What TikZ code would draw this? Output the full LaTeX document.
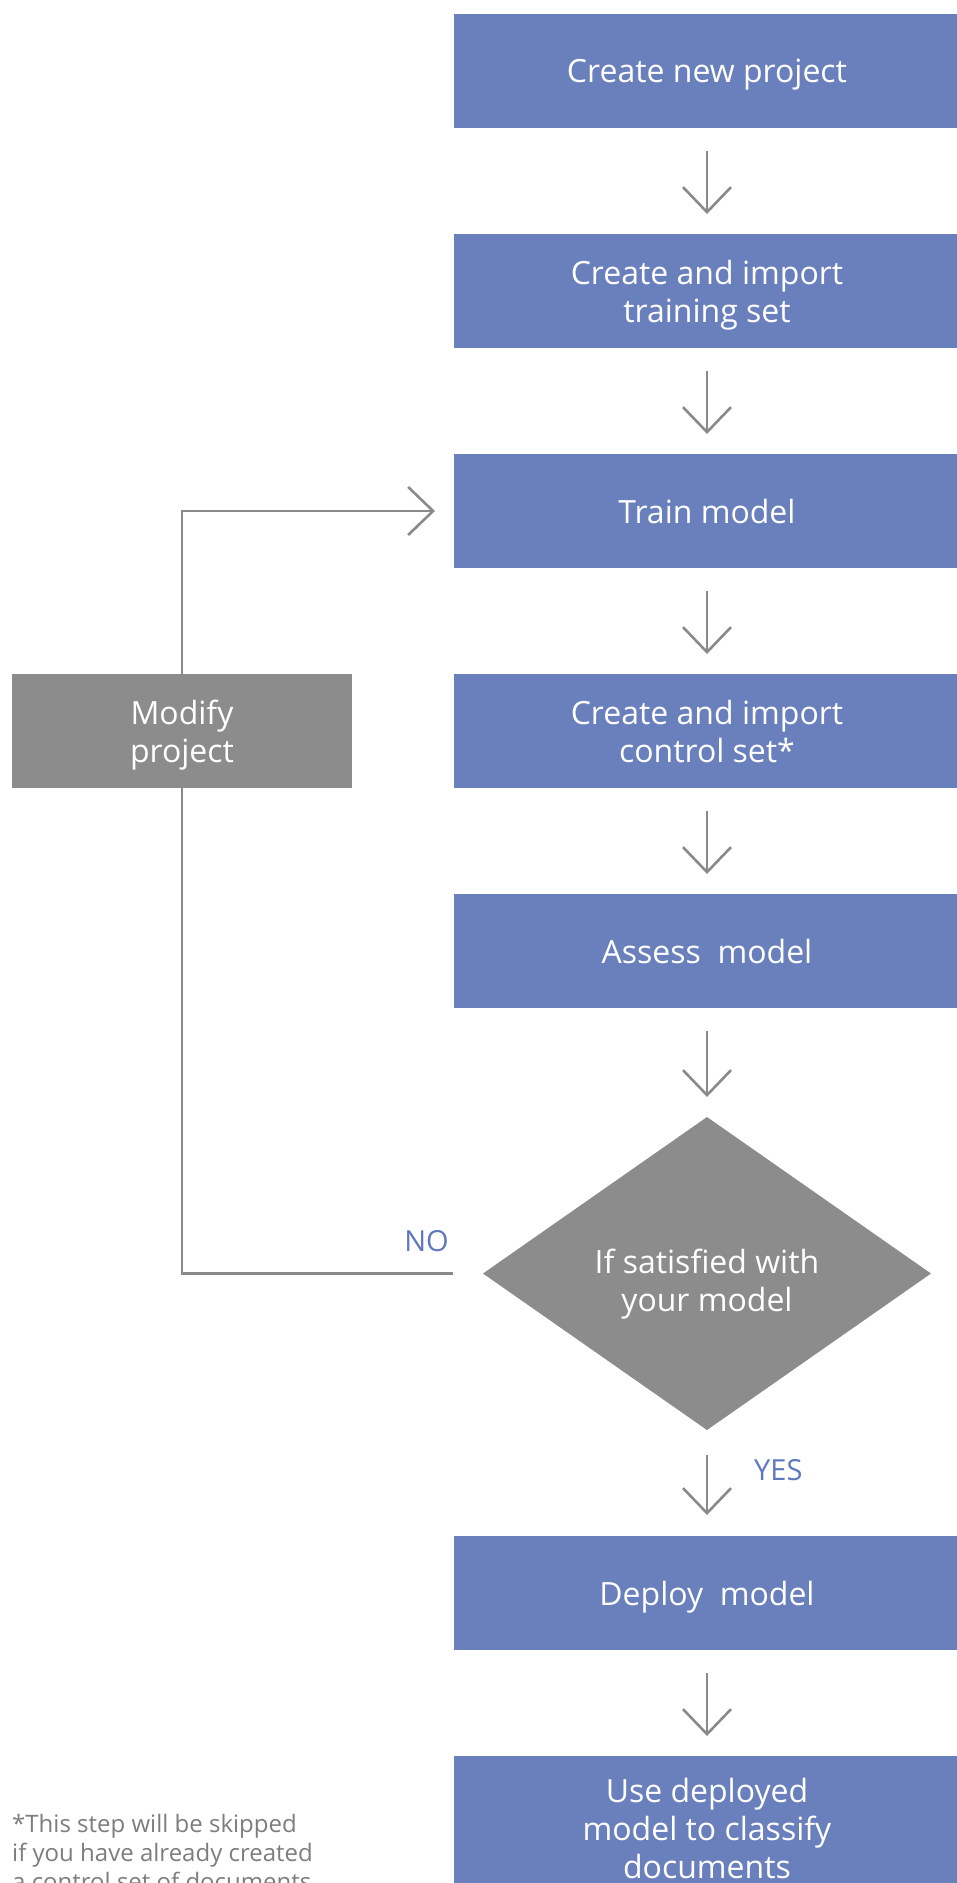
\documentclass[tikz,border=0pt]{standalone}
\usepackage{fontspec}
\setmainfont{Open Sans}
\usetikzlibrary{positioning,shapes.geometric,arrows.meta}
\definecolor{boxblue}{RGB}{105,128,189}
\definecolor{boxgrey}{RGB}{140,140,140}
\definecolor{linegrey}{RGB}{138,138,138}
\definecolor{labelblue}{RGB}{94,120,192}
\definecolor{notegrey}{RGB}{125,125,125}

\tikzset{
  stepbox/.style={fill=boxblue, text=white, minimum width=506pt, minimum height=114pt, anchor=center,
    inner sep=0pt, outer sep=0pt, align=center, text depth=0pt, font=\fontsize{32}{38}\selectfont},
  modbox/.style={stepbox, fill=boxgrey, minimum width=340pt},
  decision/.style={diamond, fill=boxgrey, text=white, minimum width=448pt, minimum height=313pt, anchor=center,
    inner sep=0pt, outer sep=0pt, align=center, text height=76pt, text depth=0pt, font=\fontsize{32}{38}\selectfont},
  flow/.style={draw=linegrey, line width=2.6pt, >={Straight Barb[length=25pt,width=48pt]}},
  answer/.style={text=labelblue, inner sep=0pt, font=\fontsize{29}{32}\selectfont}
}

\begin{document}
\begin{tikzpicture}
      \useasboundingbox (0,0) rectangle (957pt,-1883pt);
      \matrix (m) [column sep=102pt, row sep=106pt, matrix anchor=north west, inner sep=0pt, outer sep=0pt] at (12pt,-14pt)
      {
        & \node[stepbox](new) {Create new project};\\
        & \node[stepbox](import) {Create and import\\training set};\\
        & \node[stepbox](train) {Train model};\\
        \node[modbox](modify) {Modify\\project}; & \node[stepbox](control) {Create and import\\control set*};\\
        & \node[stepbox](assess) {Assess~ model};\\[3pt]
        & \node[decision](ok) {If satisfied with\\your model};\\
        & \node[stepbox](deploy) {Deploy~ model};\\
        & \node[stepbox, minimum height=144pt](use) {Use deployed\\model to classify\\documents};\\
      };

      \draw[flow, ->, shorten <=23pt, shorten >=20pt] (new) -- (import);
      \draw[flow, ->, shorten <=23pt, shorten >=20pt] (import) -- (train);
      \draw[flow, ->, shorten <=23pt, shorten >=20pt] (train) -- (control);
      \draw[flow, ->, shorten <=23pt, shorten >=20pt] (control) -- (assess);
      \draw[flow, ->, shorten <=23pt, shorten >=20pt] (assess) -- (ok);
      \draw[flow, ->, shorten <=25pt, shorten >=21pt] (ok) -- (deploy);
      \draw[flow, ->, shorten <=23pt, shorten >=20pt] (deploy) -- (use);

      % loop back when the model is not good enough
      \draw[flow, ->, shorten >=19pt] (modify.north) |- (train.west);
      \draw[flow, shorten >=30pt] (modify.south) |- (ok.west);
      \node[answer, above left=22pt and 34pt of ok.west] (no) {NO};
      \node[answer, below right=29pt and 47pt of ok.south] (yes) {YES};

      \node[anchor=north west, align=left, text=notegrey, inner sep=0pt,
        font=\fontsize{24}{29}\selectfont] (note) at (12pt,-1814pt)
        {*This step will be skipped\\if you have already created\\a control set of documents};
    \end{tikzpicture}
\end{document}
